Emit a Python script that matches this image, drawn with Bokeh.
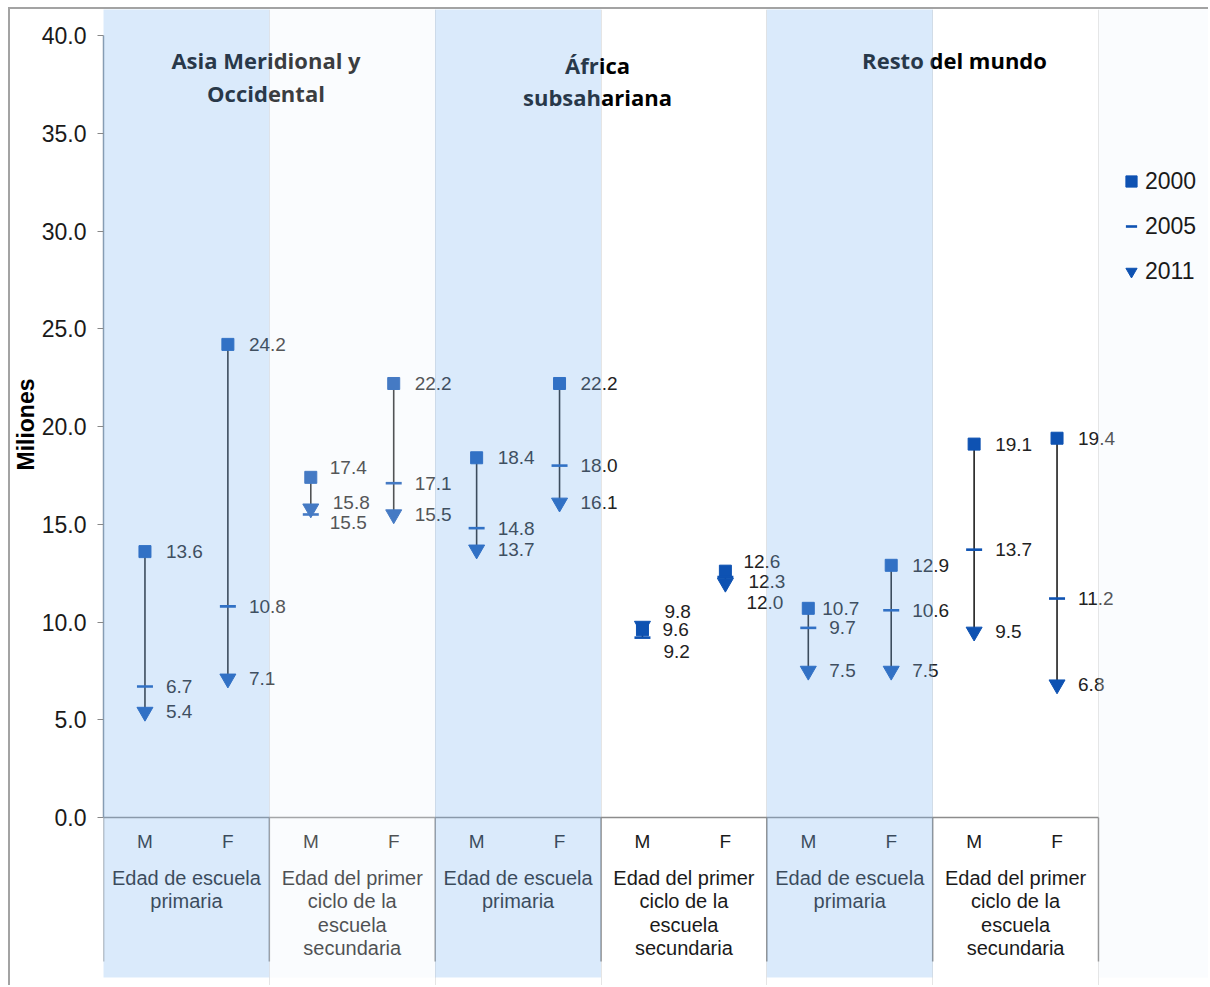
import numpy as np
from bokeh.plotting import figure
from bokeh.models import (Range1d, FixedTicker, NumeralTickFormatter, Legend,
                          LegendItem, ColumnDataSource, Title)
from bokeh.core.properties import value
from bokeh.embed import file_html
from bokeh.resources import INLINE

# ---------------- data ----------------
regions = ["Asia Meridional y\nOccidental", "África\nsubsahariana", "Resto del mundo"]
age_groups = ["Edad de escuela\nprimaria", "Edad del primer\nciclo de la\nescuela\nsecundaria"]
sexes = ["M", "F"]
series_names = ["2000", "2005", "2011"]
y2000 = [13.6, 24.2, 17.4, 22.2, 18.4, 22.2, 9.6, 12.6, 10.7, 12.9, 19.1, 19.4]
y2005 = [6.7, 10.8, 15.5, 17.1, 14.8, 18.0, 9.2, 12.3, 9.7, 10.6, 13.7, 11.2]
y2011 = [5.4, 7.1, 15.8, 15.5, 13.7, 16.1, 9.8, 12.0, 7.5, 7.5, 9.5, 6.8]
y_ticks = [0, 5, 10, 15, 20, 25, 30, 35, 40]
y_axis_title = "Miliones"

# ---------------- layout helpers (pixels of the page) ----------------
PX_X = (1098 - 103) / 12.0
PX_Y = (817 - 35) / 40.0
def xpx(px):
    return (px - 103) / PX_X
def ypx(py):
    return (817 - py) / PX_Y

BLUE = "#84B9F2"
LIGHT = "#ECF2FC"
MARK = "#0E52B2"
TXT = "#1a1a1a"
FONT = "Liberation Sans"

n_cat = len(y2000)
xc = np.arange(n_cat) + 0.5

p = figure(width=1200, height=978, output_backend="svg", toolbar_location=None,
           x_range=Range1d(0, xpx(1210)), y_range=Range1d(ypx(987), ypx(9)),
           x_axis_location=None, min_border_left=93, min_border_right=0,
           min_border_top=0, min_border_bottom=0)
p.styles = {"border-top": "2px solid #a3a3a3", "border-left": "2px solid #a3a3a3",
            "margin-left": "8px", "margin-top": "7px"}
p.outline_line_color = None
p.ygrid.grid_line_color = None
p.background_fill_color = "white"
p.border_fill_color = "white"

# y axis
ax = p.yaxis[0]
ax.ticker = FixedTicker(ticks=y_ticks)
ax.formatter = NumeralTickFormatter(format="0.0")
ax.bounds = (0, 40)
ax.major_label_text_font = FONT
ax.major_label_text_font_size = "23px"
ax.major_label_text_color = TXT
ax.major_label_standoff = 11
ax.major_tick_out = 6
ax.major_tick_in = 0
ax.minor_tick_line_color = None
ax.major_tick_line_color = "#888888"
ax.axis_line_color = "#8797a8"
ax.axis_line_width = 1.5

# y axis title, placed along the 0-40 span of the axis
p.add_layout(Title(text=y_axis_title, align="right", offset=369, standoff=0,
                   text_font=FONT, text_font_style="bold", text_font_size="23px",
                   text_color="black"), "left")

# category axis structure
sep_x = np.arange(0, n_cat + 1, 2)
p.segment(x0=sep_x, x1=sep_x, y0=0, y1=ypx(961), line_color="#8c8c8c", line_width=1.5)
p.segment(x0=[0], x1=[n_cat], y0=[0], y1=[0], line_color="#8c8c8c", line_width=1.5)

# category labels
p.text(x=xc, y=ypx(841), text=[sexes[i % 2] for i in range(n_cat)],
       text_font=value(FONT), text_font_size="19px", text_color=TXT,
       text_align="center", text_baseline="middle")
grp_x = np.arange(1, n_cat, 2)
p.text(x=grp_x, y=ypx(866), text=[age_groups[i % 2] for i in range(len(grp_x))],
       text_font=value(FONT), text_font_size="20px", text_color=TXT,
       text_align="center", text_baseline="top", text_line_height=1.075)

# region titles
p.text(x=[xpx(265.5), xpx(597), xpx(954)], y=[ypx(76), ypx(80.5), ypx(59)], text=regions,
       text_font=value("Open Sans"), text_font_style="bold", text_font_size="22px",
       text_color="black", text_align="center", text_baseline="middle",
       text_line_height=1.07)

# high-low lines
vals = np.array([y2000, y2005, y2011])
p.segment(x0=xc, x1=xc, y0=vals.max(axis=0), y1=vals.min(axis=0),
          line_color="#1e1e1e", line_width=1.6)

r2000 = p.scatter(xc, y2000, marker="square", size=12, fill_color=MARK, line_color=MARK)
r2005 = p.scatter(xc, y2005, marker="dash", size=16, line_color=MARK, line_width=2.6)
r2011 = p.scatter(xc, y2011, marker="inverted_triangle", size=16, fill_color=MARK,
                  line_color=MARK)

# data labels (with manual nudges in pixels: dx right, dy down)
nudge = {(2, 0): (19, -10), (2, 1): (19, 8), (2, 2): (22, -6),
         (6, 0): (20, 0), (6, 1): (21, 14), (6, 2): (22, -14),
         (7, 0): (18, -10), (7, 1): (23, 4), (7, 2): (21, 20),
         (8, 0): (14, 0)}
lx, ly, lt, ldx = [], [], [], []
for s, arr in enumerate([y2000, y2005, y2011]):
    for i, v in enumerate(arr):
        dx, dy = nudge.get((i, s), (21, 0))
        lx.append(xc[i]); ly.append(v - dy / PX_Y); lt.append("%.1f" % v); ldx.append(dx)
p.text(x="x", y="y", text="t", x_offset="dx",
       source=ColumnDataSource(dict(x=lx, y=ly, t=lt, dx=ldx)),
       text_font=value(FONT), text_font_size="19px", text_color="#222222",
       text_align="left", text_baseline="middle")

# translucent bands drawn on top
band_l = [0, 2, 4, 8, 12]
band_r = [2, 4, 6, 10, xpx(1210)]
band_c = [BLUE, LIGHT, BLUE, BLUE, LIGHT]
band_a = [0.3, 0.25, 0.3, 0.3, 0.25]
p.quad(left=band_l, right=band_r, top=ypx(9), bottom=ypx(977), fill_color=band_c,
       fill_alpha=band_a, line_color=None, level="overlay")

legend = Legend(items=[LegendItem(label=series_names[0], renderers=[r2000]),
                       LegendItem(label=series_names[1], renderers=[r2005]),
                       LegendItem(label=series_names[2], renderers=[r2011])],
                location=(1014, 700), glyph_width=28, glyph_height=32, spacing=13,
                padding=0, margin=0, label_standoff=0,
                label_text_font=FONT, label_text_font_size="23px", label_text_color=TXT,
                background_fill_alpha=0, border_line_alpha=0)
p.add_layout(legend)

open("out.html", "w").write(file_html(p, INLINE))
